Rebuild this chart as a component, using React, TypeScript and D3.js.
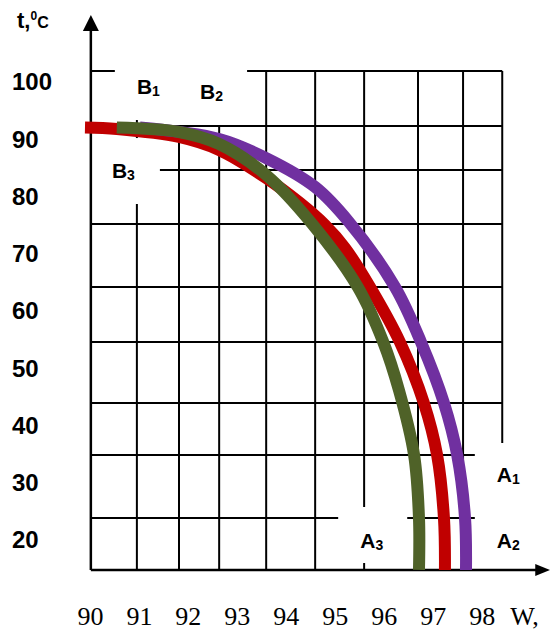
import { useEffect, useRef } from 'react';
import * as d3 from 'd3';

// axis labels
const tTicks = [100, 90, 80, 70, 60, 50, 40, 30, 20];
const wTicks = [90, 91, 92, 93, 94, 95, 96, 97, 98];

// where the axes start / end (data units)
const W0 = 90.05;
const T0 = 14.76;
const W_END = 99.43;
const T_END = 111.7;

// hand drawn grid, vertical pieces: [W, t from, t to]
const vGrid = [
    [90.99, 93.36, 90.21],
    [90.99, 78.69, T0],
    [91.85, 92.31, T0],
    [92.67, 92.31, T0],
    [93.63, 101.92, T0],
    [94.63, 101.92, T0],
    [95.63, 101.92, 25.76],
    [95.63, 15.98, T0],
    [96.73, 101.92, T0],
    [97.65, 101.92, T0],
    [98.45, 101.92, 36.94],
];

// horizontal pieces: [t, W from, W to]
const hGrid = [
    [101.92, W0, 90.54],
    [101.92, 93.24, 98.45],
    [92.31, W0, 98.45],
    [84.63, 91.46, 98.45],
    [75.2, W0, 98.45],
    [64.19, W0, 98.45],
    [54.59, W0, 98.45],
    [43.93, W0, 98.45],
    [34.85, W0, 97.89],
    [23.84, W0, 95.1],
    [23.84, 96.51, 97.89],
];

// curves
const redW = [89.93, 90.58, 91.85, 92.67, 93.63, 94.32, 94.83, 95.24, 95.75, 96.36, 96.85, 97.12, 97.26, 97.28];
const redT = [92.05, 91.79, 90.39, 88.12, 83.23, 78.86, 75.02, 71.0, 64.19, 54.59, 43.93, 34.85, 23.84, 14.76];

const purpleW = [91.05, 92.67, 93.63, 94.63, 95.32, 96.26, 96.79, 97.26, 97.53, 97.69, 97.71];
const purpleT = [92.05, 90.04, 86.72, 81.66, 75.55, 64.19, 54.59, 43.93, 34.85, 23.84, 14.76];

const greenW = [90.58, 91.85, 92.67, 93.63, 94.57, 95.5, 96.02, 96.34, 96.65, 96.75, 96.75];
const greenT = [92.05, 91.27, 89.17, 83.76, 75.2, 64.19, 54.59, 46.2, 34.85, 23.84, 14.76];

// zone labels
const zoneLetter = ['B', 'B', 'B', 'A', 'A', 'A'];
const zoneIndex = ['1', '2', '3', '1', '2', '3'];
const zoneW = [90.99, 92.28, 90.48, 98.34, 98.34, 95.55];
const zoneT = [97.9, 97.03, 83.23, 30.13, 18.6, 18.6];

export default function App() {
    const ref = useRef<SVGSVGElement>(null);

    useEffect(() => {
        const svg = d3.select(ref.current);
        svg.selectAll('*').remove();

        const x = d3.scaleLinear().domain([90, 98]).range([88.4, 480.2]);
        const y = d3.scaleLinear().domain([20, 100]).range([540, 82]);

        const g = svg.append('g');

        // grid
        g.selectAll('.vg')
            .data(vGrid)
            .join('line')
            .attr('x1', d => x(d[0]))
            .attr('x2', d => x(d[0]))
            .attr('y1', d => y(d[1]))
            .attr('y2', d => y(d[2]))
            .attr('stroke', '#000')
            .attr('stroke-width', 2);

        g.selectAll('.hg')
            .data(hGrid)
            .join('line')
            .attr('x1', d => x(d[1]))
            .attr('x2', d => x(d[2]))
            .attr('y1', d => y(d[0]))
            .attr('y2', d => y(d[0]))
            .attr('stroke', '#000')
            .attr('stroke-width', 2);

        // axes with arrow heads
        g.append('line')
            .attr('x1', x(W0)).attr('x2', x(W0))
            .attr('y1', y(T0)).attr('y2', y(T_END) + 10)
            .attr('stroke', '#000').attr('stroke-width', 2.5);
        g.append('path')
            .attr('d', `M${x(W0)},${y(T_END)} L${x(W0) - 8},${y(T_END) + 16} L${x(W0) + 8},${y(T_END) + 16} Z`)
            .attr('fill', '#000');

        g.append('line')
            .attr('x1', x(W0)).attr('x2', x(W_END) - 10)
            .attr('y1', y(T0)).attr('y2', y(T0))
            .attr('stroke', '#000').attr('stroke-width', 2.5);
        g.append('path')
            .attr('d', `M${x(W_END)},${y(T0)} L${x(W_END) - 15},${y(T0) - 6} L${x(W_END) - 15},${y(T0) + 6} Z`)
            .attr('fill', '#000');

        // curves
        const line = d3.line<[number, number]>()
            .x(d => x(d[0]))
            .y(d => y(d[1]))
            .curve(d3.curveCatmullRom.alpha(0.5));

        const curves = [
            { w: redW, t: redT, color: '#c00000' },
            { w: purpleW, t: purpleT, color: '#7030a0' },
            { w: greenW, t: greenT, color: '#4f6228' },
        ];

        curves.forEach(c => {
            const pts = c.w.map((w, i) => [w, c.t[i]] as [number, number]);
            g.append('path')
                .datum(pts)
                .attr('fill', 'none')
                .attr('stroke', c.color)
                .attr('stroke-width', 12)
                .attr('stroke-linecap', 'butt')
                .attr('d', line);
        });

        // y tick labels
        g.selectAll('.yl')
            .data(tTicks)
            .join('text')
            .attr('x', 12)
            .attr('y', d => y(d))
            .attr('dy', '0.35em')
            .attr('font-family', 'Liberation Sans, Arial, sans-serif')
            .attr('font-weight', 'bold')
            .attr('font-size', 24)
            .attr('fill', '#000')
            .text(d => d);

        // x tick labels
        g.selectAll('.xl')
            .data(wTicks)
            .join('text')
            .attr('x', d => x(d) + 2)
            .attr('y', 625)
            .attr('text-anchor', 'middle')
            .attr('font-family', 'Liberation Serif, serif')
            .attr('font-size', 26)
            .attr('fill', '#000')
            .text(d => d);

        g.append('text')
            .attr('x', x(98) + 30)
            .attr('y', 625)
            .attr('font-family', 'Liberation Serif, serif')
            .attr('font-size', 26)
            .text('W,');

        // t,°C title
        const title = g.append('text')
            .attr('x', 17)
            .attr('y', 28)
            .attr('font-family', 'Liberation Sans, Arial, sans-serif')
            .attr('font-weight', 'bold')
            .attr('fill', '#000');
        title.append('tspan').attr('font-size', 22).text('t,');
        title.append('tspan').attr('font-size', 12).attr('dy', -8).text('0');
        title.append('tspan').attr('font-size', 16).attr('dy', 8).text('C');

        // zone labels
        zoneLetter.forEach((l, i) => {
            const t = g.append('text')
                .attr('x', x(zoneW[i]))
                .attr('y', y(zoneT[i]))
                .attr('font-family', 'Liberation Sans, Arial, sans-serif')
                .attr('font-weight', 'bold')
                .attr('fill', '#000');
            t.append('tspan').attr('font-size', 21).text(l);
            t.append('tspan').attr('font-size', 14).attr('dy', 2).text(zoneIndex[i]);
        });
    }, []);

    return (
        <svg
            ref={ref}
            width={550}
            height={632}
            style={{ position: 'absolute', left: 0, top: 0, background: '#fff' }}
        ></svg>
    );
}
